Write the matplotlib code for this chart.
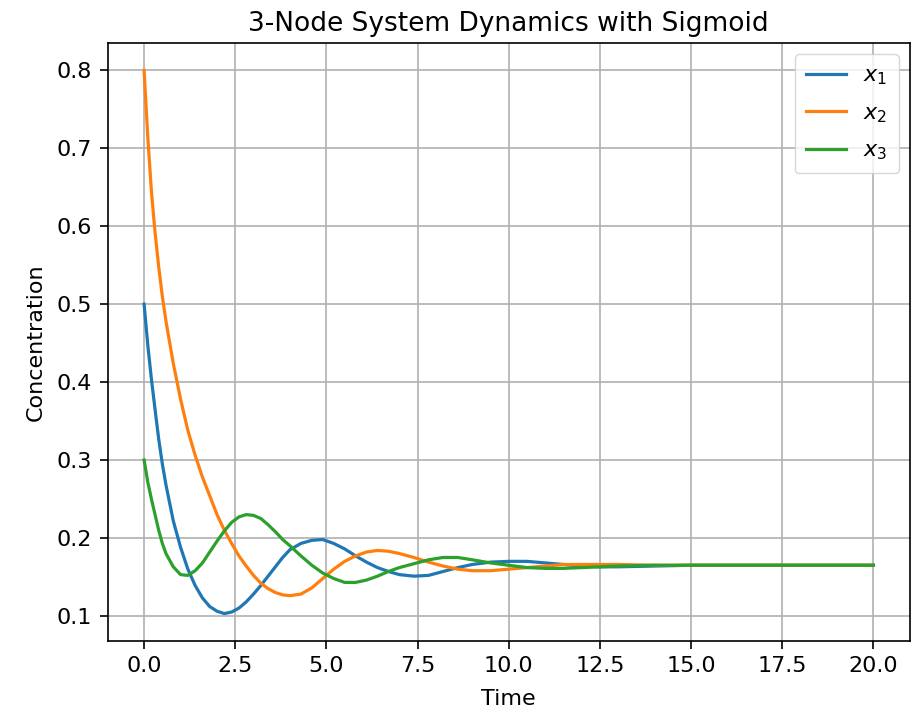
import matplotlib
matplotlib.use("Agg")
import matplotlib.pyplot as plt

# values
time = [0, 0.1, 0.2, 0.3, 0.4, 0.5, 0.6, 0.8, 1.0, 1.2, 1.4, 1.6, 1.8, 2.0,
        2.2, 2.4, 2.6, 2.8, 3.0, 3.2, 3.4, 3.6, 3.8, 4.0, 4.3, 4.6, 4.9, 5.2,
        5.5, 5.8, 6.1, 6.4, 6.7, 7.0, 7.4, 7.8, 8.2, 8.6, 9.0, 9.5, 10.0, 10.5,
        11.0, 11.5, 12.0, 12.5, 13.0, 14.0, 15.0, 16.0, 17.0, 18.0, 19.0, 20.0]

x1 = [0.500, 0.448, 0.404, 0.365, 0.327, 0.295, 0.268, 0.222, 0.188, 0.160,
      0.139, 0.123, 0.112, 0.106, 0.103, 0.105, 0.110, 0.118, 0.128, 0.139,
      0.151, 0.163, 0.175, 0.185, 0.193, 0.197, 0.198, 0.193, 0.186, 0.177,
      0.169, 0.162, 0.157, 0.153, 0.151, 0.152, 0.157, 0.162, 0.166, 0.169,
      0.170, 0.170, 0.168, 0.166, 0.164, 0.163, 0.163, 0.164, 0.165, 0.165,
      0.165, 0.165, 0.165, 0.165]

x2 = [0.800, 0.715, 0.645, 0.592, 0.548, 0.510, 0.478, 0.424, 0.378, 0.338,
      0.306, 0.278, 0.254, 0.230, 0.210, 0.193, 0.177, 0.164, 0.152, 0.142,
      0.135, 0.130, 0.127, 0.126, 0.128, 0.136, 0.148, 0.160, 0.170, 0.177,
      0.182, 0.184, 0.183, 0.180, 0.175, 0.169, 0.164, 0.160, 0.158, 0.158,
      0.160, 0.162, 0.164, 0.166, 0.166, 0.166, 0.166, 0.165, 0.165, 0.165,
      0.165, 0.165, 0.165, 0.165]

x3 = [0.300, 0.272, 0.250, 0.230, 0.210, 0.193, 0.180, 0.163, 0.153, 0.152,
      0.158, 0.168, 0.182, 0.196, 0.209, 0.220, 0.227, 0.230, 0.229, 0.225,
      0.217, 0.208, 0.198, 0.190, 0.177, 0.165, 0.155, 0.148, 0.143, 0.143,
      0.146, 0.151, 0.157, 0.162, 0.167, 0.172, 0.175, 0.175, 0.172, 0.168,
      0.165, 0.162, 0.161, 0.161, 0.162, 0.163, 0.164, 0.165, 0.165, 0.165,
      0.165, 0.165, 0.165, 0.165]

labels = ["$x_1$", "$x_2$", "$x_3$"]

fig = plt.figure(figsize=(9.2, 7.08), dpi=100)
ax = fig.add_axes([0.117, 0.095, 0.872, 0.844])

for series, lab in zip([x1, x2, x3], labels):
    ax.plot(time, series, label=lab, linewidth=2.3)

ax.set_title("3-Node System Dynamics with Sigmoid", fontsize=19, pad=9)
ax.set_xlabel("Time", fontsize=16, labelpad=9)
ax.set_ylabel("Concentration", fontsize=16, labelpad=8)
ax.tick_params(labelsize=16, width=1.2, length=6, pad=5)
for sp in ax.spines.values():
    sp.set_linewidth(1.2)
ax.grid(True, linewidth=1.2)
ax.legend(loc="upper right", fontsize=16, labelspacing=0.72, borderpad=0.5,
          handlelength=1.8)

plt.savefig("out.png", dpi=100)
